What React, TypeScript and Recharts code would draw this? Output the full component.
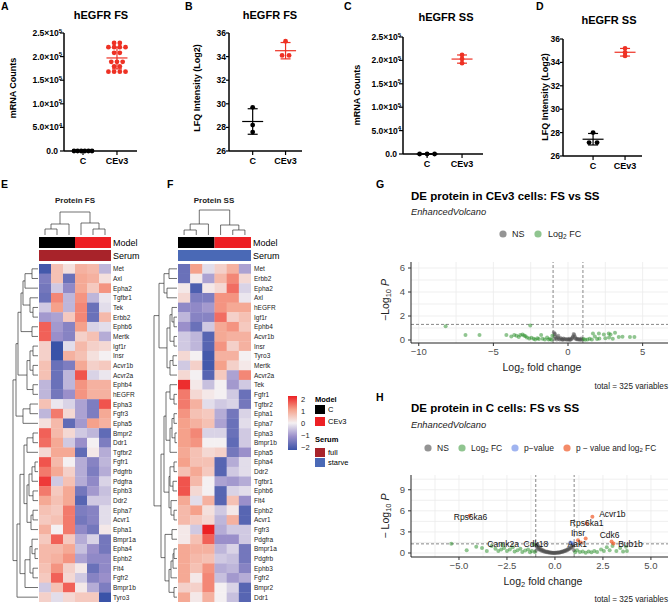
import React from 'react';
import { ScatterChart, Scatter, XAxis, YAxis, ReferenceLine, CartesianGrid } from 'recharts';

const FONT = '"Liberation Sans", Arial, Helvetica, sans-serif';
const RED = '#ee3124';

// ---------- hEGFR dot plots ----------
const groupLabels = ['C', 'CEv3'];
const fsMrnaC = [0, 0, 0, 0, 0, 0];
const fsMrnaCEv3 = [229000, 229000, 220000, 220000, 220000, 220000, 208000, 208000, 189000, 189000, 189000, 179000, 179000, 168000, 168000, 168000, 168000];
const fsLfqC = [29.7, 28.2, 27.6];
const fsLfqCEv3 = [35.3, 34.1, 34.1];
const ssMrnaC = [0, 0, 0];
const ssMrnaCEv3 = [211500, 203000, 194000];
const ssLfqC = [28.0, 27.15, 27.15];
const ssLfqCEv3 = [35.2, 34.85, 34.55];
const mrnaTicks = [0, 50000, 100000, 150000, 200000, 250000];
const lfqTicks = [26, 28, 30, 32, 34, 36];

// ---------- heatmaps (row z-scores, columns C x3 then CEv3 x3) ----------
const fsGenes = ['Met', 'Axl', 'Epha2', 'Tgfbr1', 'Tek', 'Erbb2', 'Ephb6', 'Mertk', 'Igf1r', 'Insr', 'Acvr1b', 'Acvr2a', 'Ephb4', 'hEGFR', 'Epha3', 'Fgfr3', 'Epha5', 'Bmpr2', 'Ddr1', 'Tgfbr2', 'Fgfr1', 'Pdgfrb', 'Pdgfra', 'Ephb3', 'Ddr2', 'Epha7', 'Acvr1', 'Epha1', 'Bmpr1a', 'Epha4', 'Ephb2', 'Flt4', 'Fgfr2', 'Bmpr1b', 'Tyro3'];
const fsHeat = [
  [-1.9, 0.6, 0.2, 0.8, 0.7, -0.6],
  [-1.3, 0.6, -1.5, 0.9, 0.8, 0.2],
  [-1.4, -0.4, -1.1, 0.9, 0.5, 1.1],
  [-1.5, 1.2, -0.6, 1.1, -0.6, -0.1],
  [-0.4, 1.0, -0.6, 1.2, -1.5, -0.2],
  [-0.9, -0.8, 0.5, 1.2, -1.5, 0.7],
  [1.5, -0.9, -1.2, 1.0, -0.3, -0.2],
  [1.5, -1.0, -1.2, 0.4, 0.6, -0.7],
  [0.4, -2.0, -0.2, 0.7, 0.4, 0.3],
  [0.4, -2.0, 0.8, 0.6, 0.2, 0.0],
  [0.6, -1.5, -1.3, 0.9, 0.4, 0.5],
  [0.6, -1.5, -0.6, 1.6, -0.3, -0.1],
  [-0.6, -1.5, -0.6, 1.1, 0.8, 0.8],
  [-0.6, -1.4, -1.0, 1.1, 0.8, 0.8],
  [0.6, -0.1, -0.3, -0.8, -1.3, 1.6],
  [-0.6, 1.3, 0.3, -0.8, -1.3, 0.9],
  [0.2, 0.7, -1.6, -0.9, 1.0, 0.8],
  [1.5, 0.7, 0.3, -0.4, -0.6, -1.6],
  [1.4, 0.9, -0.4, -1.0, 0.0, -1.3],
  [0.3, 0.9, 0.9, -1.6, 0.1, -0.7],
  [1.6, 0.7, 0.0, -0.7, -1.2, -0.6],
  [1.3, 0.9, 0.4, -0.7, -1.3, -0.7],
  [1.8, -0.4, 0.6, -0.7, -1.1, -0.3],
  [1.3, 0.5, 0.9, -1.4, -0.9, -0.5],
  [0.9, 0.6, 0.9, -1.7, -0.4, -0.4],
  [0.6, 0.5, 1.3, -1.3, -1.2, -0.2],
  [0.5, 0.6, 1.3, -1.4, -1.2, -0.2],
  [0.8, 0.0, 1.3, -1.1, -1.4, 0.1],
  [0.5, 1.5, 0.5, -0.7, -0.3, -1.4],
  [0.7, 0.7, 0.9, -0.5, -1.0, -1.4],
  [0.7, 0.8, 1.1, -0.8, -1.1, -1.1],
  [0.6, 1.1, 0.4, 0.1, -1.5, -1.1],
  [0.5, 1.5, 0.3, -0.4, -1.2, -1.0],
  [-0.4, 0.6, 1.5, 0.1, -0.7, -1.3],
  [0.4, -0.2, 0.3, 0.5, 0.5, -2.0],
];
const ssGenes = ['Met', 'Erbb2', 'Epha2', 'Axl', 'hEGFR', 'Igf1r', 'Ephb4', 'Acvr1b', 'Insr', 'Tyro3', 'Mertk', 'Acvr2a', 'Tek', 'Fgfr1', 'Tgfbr2', 'Epha1', 'Epha7', 'Epha3', 'Bmpr1b', 'Epha5', 'Epha4', 'Ddr2', 'Tgfbr1', 'Ephb6', 'Flt4', 'Ephb2', 'Acvr1', 'Fgfr3', 'Pdgfra', 'Bmpr1a', 'Pdgfrb', 'Ephb3', 'Fgfr2', 'Bmpr2', 'Ddr1'];
const ssHeat = [
  [-1.5, 1.0, -0.2, 0.4, 0.8, -0.8],
  [-1.5, 0.1, -0.8, 0.7, 1.2, 0.3],
  [0.1, -1.8, 0.1, 0.3, 1.4, -0.3],
  [0.3, -1.3, -1.3, 1.1, 1.1, -0.1],
  [-1.1, -1.1, -0.9, 1.1, 0.9, 0.9],
  [-0.6, -1.2, -1.2, 1.4, 0.4, 0.6],
  [-1.0, -1.5, -0.4, 0.9, 1.1, 0.5],
  [-0.4, -0.6, -1.7, 0.9, 0.8, 0.8],
  [-0.4, -0.6, -1.7, 1.1, 0.4, 0.8],
  [0.3, 0.0, -1.9, 0.8, 0.8, 0.0],
  [-0.4, 0.4, -1.9, 1.0, 0.4, 0.1],
  [0.3, 0.0, -1.7, 0.5, -0.8, 1.2],
  [1.9, 0.1, -0.5, 0.0, -0.9, -0.4],
  [1.3, 0.3, 0.1, 0.0, -0.4, -1.5],
  [1.3, 0.8, -0.2, -0.4, -0.3, -1.4],
  [1.1, 0.6, 0.5, -0.7, -1.4, -0.3],
  [1.0, 0.8, 0.6, -0.8, -1.5, -0.2],
  [1.0, 1.2, -0.3, -0.3, -1.5, -0.4],
  [1.0, 1.1, 0.0, 0.0, -1.6, -0.4],
  [0.9, 0.6, 0.3, 0.4, -1.4, -1.0],
  [1.0, 0.6, 0.6, -1.7, -0.7, -0.2],
  [0.6, 0.9, 0.5, -1.7, -0.4, -0.2],
  [1.6, 0.7, 0.0, -0.8, -0.9, -0.7],
  [1.6, 0.3, 0.0, -1.7, -0.3, -0.2],
  [0.9, -0.2, 0.8, -1.7, 0.6, -1.0],
  [0.7, 1.0, 0.2, -0.4, 0.1, -1.7],
  [0.7, 0.5, 0.3, -0.6, 0.8, -1.7],
  [0.1, -0.4, 2.0, -0.7, -0.4, -0.4],
  [0.1, 0.6, 1.5, -1.0, -1.0, -0.4],
  [0.9, 0.8, 0.8, -0.6, -0.3, -1.4],
  [0.9, 0.7, 0.6, -0.4, -0.5, -1.4],
  [0.9, 0.6, 1.1, -0.7, -0.6, -1.2],
  [0.9, 0.1, 1.2, -0.5, -0.9, -0.7],
  [0.4, 0.4, 1.2, 0.0, -0.3, -1.7],
  [0.9, 0.1, 0.8, 0.0, -0.5, -1.7],
];

// hierarchical clustering trees: leaf = row/column index, node = [left, right, height]
type Tree = number | [Tree, Tree, number];
const fsRowTree: Tree = [
  [[[[[[0, 1, 6], 2, 13], [3, [4, 5, 5], 8], 15], [6, 7, 6], 17],
    [[[8, 9, 5], [10, 11, 5], 8], [12, 13, 5], 11], 20],
   [[14, 15, 8], 16, 15], 22],
  [[[[[17, 18, 5], 19, 11],
     [[[[20, 21, 3], 22, 6], [23, 24, 5], 9], [[25, 26, 5], 27, 7], 11], 14],
    [[[28, [29, 30, 3], 6], [31, 32, 5], 8], 33, 13], 18], 34, 21],
  25,
];
const ssRowTree: Tree = [
  [[[0, 1, 8], [2, 3, 10], 13],
   [[[4, [5, 6, 3], 5], [7, 8, 3], 7], [[9, 10, 4], 11, 7], 10], 18],
  [[[[12, [13, 14, 3], 7], [[[15, 16, 3], [17, 18, 2], 5], 19, 7], 11],
    [[[20, 21, 3], [22, 23, 4], 7], [24, [25, 26, 3], 6], 8], 13],
   [[27, 28, 5], [[[[29, 30, 3], 31, 4], 32, 6], [33, 34, 3], 8], 12], 16],
  23,
];
const fsColTree: Tree = [[[0, 1, 6], 2, 11], [3, [4, 5, 6], 12], 23];
const ssColTree: Tree = [[[0, 1, 5], 2, 11], [3, [4, 5, 5], 10], 25];

// ---------- volcano plots: [log2FC, -log10 P] ----------
const cev3Ns = [[-0.95, 0.62], [-0.9, 0.45], [-0.85, 0.3], [-0.8, 0.15], [-0.75, 0.05], [-0.7, 0.22], [-0.62, 0.1], [-0.55, 0.04], [-0.5, 0.16], [-0.44, 0.08], [-0.38, 0.02], [-0.3, 0.12], [-0.25, 0.05], [-0.18, 0.09], [-0.1, 0.03], [-0.05, 0.07], [0.02, 0.04], [0.08, 0.1], [0.15, 0.02], [0.2, 0.06], [0.28, 0.12], [0.33, 0.3], [0.38, 0.5], [0.42, 0.42], [0.46, 0.28], [0.5, 0.15], [0.55, 0.06], [0.6, 0.1], [0.66, 0.04], [0.72, 0.08], [0.78, 0.02], [0.85, 0.05], [0.9, 0.12], [0.95, 0.03], [-0.88, 0.52], [-0.65, 0.35], [0.3, 0.2], [-0.92, 0.08], [0.1, 0.02], [-0.35, 0.04]];
const cev3Fc = [[-8.2, 1.15], [-6.87, 0.42], [-5.93, 0.42], [-4.13, 0.42], [-3.8, 0.3], [-3.6, 0.42], [-3.45, 0.35], [-3.3, 0.25], [-3.2, 0.42], [-3.05, 0.45], [-2.95, 0.38], [-2.85, 0.32], [-2.75, 0.2], [-2.6, 0.12], [-2.53, 1.2], [-2.45, 0.18], [-2.3, 0.1], [-2.2, 0.05], [-2.05, 0.15], [-1.95, 0.08], [-1.8, 0.42], [-1.7, 0.1], [-1.55, 0.05], [-1.4, 0.2], [-1.3, 0.05], [-1.2, 0.08], [-1.1, 0.03], [-1.05, 0.35], [1.05, 0.08], [1.15, 0.02], [1.3, 0.05], [1.45, 0.1], [1.6, 0.04], [1.67, 0.55], [1.8, 0.3], [1.95, 0.08], [2.07, 0.55], [2.1, 0.12], [2.4, 0.45], [2.5, 0.15], [2.73, 0.55], [2.75, 0.2], [2.85, 0.45], [3.0, 0.1], [3.15, 0.6], [3.4, 0.25], [3.65, 0.28], [4.15, 0.25], [4.45, 0.25]];

const cNs = [[-0.98, 1.1], [-0.95, 0.85], [-0.92, 1.25], [-0.9, 0.7], [-0.87, 0.95], [-0.85, 0.55], [-0.82, 0.8], [-0.8, 0.45], [-0.76, 0.6], [-0.72, 0.35], [-0.7, 0.5], [-0.66, 0.28], [-0.62, 0.4], [-0.58, 0.2], [-0.55, 0.3], [-0.5, 0.15], [-0.46, 0.22], [-0.42, 0.1], [-0.38, 0.16], [-0.34, 0.06], [-0.3, 0.12], [-0.26, 0.04], [-0.22, 0.08], [-0.18, 0.02], [-0.14, 0.05], [-0.1, 0.01], [-0.06, 0.03], [-0.02, 0.01], [0.02, 0.02], [0.06, 0.04], [0.1, 0.02], [0.14, 0.06], [0.18, 0.08], [0.22, 0.05], [0.26, 0.12], [0.3, 0.1], [0.34, 0.18], [0.38, 0.14], [0.42, 0.25], [0.46, 0.2], [0.5, 0.32], [0.54, 0.28], [0.58, 0.42], [0.62, 0.36], [0.66, 0.55], [0.7, 0.48], [0.74, 0.68], [0.78, 0.6], [0.82, 0.85], [0.86, 0.75], [0.9, 1.05], [0.94, 0.9], [0.97, 1.2], [-1.0, 0.3], [0.99, 0.4]];
const cFc = [[-5.4, 1.3], [-4.6, 0.4], [-4.1, 0.9], [-3.8, 0.7], [-3.55, 0.3], [-3.3, 1.0], [-3.1, 0.6], [-2.95, 0.3], [-2.8, 0.5], [-2.75, 1.15], [-2.65, 0.7], [-2.5, 0.3], [-2.35, 0.5], [-2.2, 0.8], [-2.1, 0.2], [-1.95, 0.4], [-1.8, 0.6], [-1.7, 0.15], [-1.55, 0.35], [-1.4, 0.5], [-1.3, 0.1], [-1.2, 0.3], [-1.1, 1.2], [-1.05, 0.15], [1.05, 0.1], [1.15, 0.4], [1.3, 0.15], [1.45, 0.2], [1.6, 0.05], [1.75, 0.2], [1.9, 0.1], [2.05, 0.3], [2.2, 0.15], [2.4, 0.5], [2.55, 0.3], [2.7, 0.8], [2.85, 0.4], [3.0, 1.0], [3.2, 0.3], [3.4, 0.7], [3.55, 0.2], [3.7, 0.9], [3.75, 0.3]];
const cP = [[0.8, 1.5], [0.92, 1.38]];
const cPFc = [[-4.45, 5.3], [1.95, 5.15], [1.65, 4.2], [1.2, 1.8], [1.6, 2.05], [1.35, 1.5], [2.95, 1.65], [3.05, 1.35]];
const cLabeled = [
  { gene: 'Rps6ka6', x: -4.45, y: 5.3 },
  { gene: 'Acvr1b', x: 1.95, y: 5.15 },
  { gene: 'Rps6ka1', x: 1.65, y: 4.2 },
  { gene: 'Insr', x: 1.2, y: 1.8 },
  { gene: 'Cdk6', x: 2.95, y: 1.65 },
  { gene: 'Bub1b', x: 3.05, y: 1.35 },
  { gene: 'Camk2a', x: -2.75, y: 1.15 },
  { gene: 'Cdk18', x: -1.1, y: 1.2 },
  { gene: 'Aak1', x: 0.8, y: 1.5 },
];
// pixel offsets of the gene labels from their points
const labelNudge: Record<string, [number, number]> = {
  Rps6ka6: [1, 1], Acvr1b: [20, -3], Rps6ka1: [0, 0], Insr: [0, -7], Cdk6: [-2, -6],
  Bub1b: [17, 0.5], Camk2a: [1, -1], Cdk18: [2, -1], Aak1: [7, 1.5],
};

const NS_COL = '#4d4d4d';
const FC_COL = '#228b22';
const P_COL = '#4169e1';
const PFC_COL = '#ef5a28';

// ---------- helpers ----------
const mean = (a: number[]) => a.reduce((s, v) => s + v, 0) / a.length;
const sd = (a: number[]) => {
  const m = mean(a);
  return Math.sqrt(a.reduce((s, v) => s + (v - m) ** 2, 0) / (a.length - 1));
};

// spread tied values side by side around the group centre
function swarm(values: number[], center: number, step: number) {
  const counts = new Map<number, number>();
  values.forEach((v) => counts.set(v, (counts.get(v) || 0) + 1));
  const seen = new Map<number, number>();
  return values.map((v) => {
    const n = counts.get(v)!;
    const i = seen.get(v) || 0;
    seen.set(v, i + 1);
    return { x: center + (i - (n - 1) / 2) * step, y: v };
  });
}

const heatStops: [number, number[]][] = [
  [-2, [58, 83, 168]],
  [-1, [154, 143, 202]],
  [0, [244, 240, 242]],
  [1, [245, 161, 139]],
  [2, [236, 32, 36]],
];
function heatColor(z: number) {
  const v = Math.max(-2, Math.min(2, z));
  for (let i = 0; i < heatStops.length - 1; i++) {
    const [a, ca] = heatStops[i];
    const [b, cb] = heatStops[i + 1];
    if (v <= b) {
      const t = (v - a) / (b - a);
      return `rgb(${ca.map((c, k) => Math.round(c + (cb[k] - c) * t)).join(',')})`;
    }
  }
  return 'rgb(236,32,36)';
}

function treeSegments(t: Tree, segs: number[][]): [number, number] {
  if (typeof t === 'number') return [t + 0.5, 0];
  const [a, b, h] = t;
  const [pa, ha] = treeSegments(a, segs);
  const [pb, hb] = treeSegments(b, segs);
  segs.push([pa, ha, pa, h], [pb, hb, pb, h], [pa, h, pb, h]);
  return [(pa + pb) / 2, h];
}

function RowDendro({ tree, edge, top, rowH }: { tree: Tree; edge: number; top: number; rowH: number }) {
  const segs: number[][] = [];
  treeSegments(tree, segs);
  return (
    <g stroke="#333" strokeWidth={0.7} fill="none">
      {segs.map((s, i) => (
        <line key={i} x1={edge - s[1]} y1={top + s[0] * rowH} x2={edge - s[3]} y2={top + s[2] * rowH} />
      ))}
    </g>
  );
}

function ColDendro({ tree, left, base, colW }: { tree: Tree; left: number; base: number; colW: number }) {
  const segs: number[][] = [];
  treeSegments(tree, segs);
  return (
    <g stroke="#333" strokeWidth={0.7} fill="none">
      {segs.map((s, i) => (
        <line key={i} x1={left + s[0] * colW} y1={base - s[1]} x2={left + s[2] * colW} y2={base - s[3]} />
      ))}
    </g>
  );
}

const SciTick = (props: any) => {
  const { x, y, payload } = props;
  const v = payload.value as number;
  if (v === 0) {
    return (
      <text x={x} y={y} dy={3} textAnchor="end" fontSize={8.5} fontWeight="bold" fontFamily={FONT} fill="#000">0.0</text>
    );
  }
  const exp = Math.floor(Math.log10(v) + 1e-9);
  const mant = (v / 10 ** exp).toFixed(1);
  return (
    <text x={x + 4} y={y} dy={3} textAnchor="end" fontSize={8.5} fontWeight="bold" fontFamily={FONT} fill="#000">
      <tspan>{mant}×10</tspan>
      <tspan dy={-3.5} fontSize={6}>{exp}</tspan>
    </text>
  );
};

type Box = { l: number; t: number; r: number; b: number };
type Group = { values: number[]; color: string; step: number };

function DotPanel({ plot, xDomain, yDomain, yTicks, sci, groups }: {
  plot: Box; xDomain: [number, number]; yDomain: [number, number]; yTicks: number[]; sci?: boolean; groups: Group[];
}) {
  const padL = 62, padT = 10, padR = 8, axisH = 24;
  const w = plot.r - plot.l;
  const h = plot.b - plot.t;
  const unit = (xDomain[1] - xDomain[0]) / w;
  const marks: React.ReactNode[] = [];
  groups.forEach((g, i) => {
    const cx = i + 1;
    const m = mean(g.values);
    const s = sd(g.values);
    const line = { stroke: g.color, strokeWidth: 1.2, ifOverflow: 'visible' as const };
    marks.push(
      <ReferenceLine key={`m${i}`} segment={[{ x: cx - 10.5 * unit, y: m }, { x: cx + 10.5 * unit, y: m }]} {...line} />,
      <ReferenceLine key={`v${i}`} segment={[{ x: cx, y: m - s }, { x: cx, y: m + s }]} {...line} />,
      <ReferenceLine key={`t${i}`} segment={[{ x: cx - 5 * unit, y: m + s }, { x: cx + 5 * unit, y: m + s }]} {...line} />,
      <ReferenceLine key={`b${i}`} segment={[{ x: cx - 5 * unit, y: m - s }, { x: cx + 5 * unit, y: m - s }]} {...line} />,
      <Scatter
        key={`s${i}`}
        data={swarm(g.values, cx, g.step * unit)}
        isAnimationActive={false}
        shape={(p: any) => <circle cx={p.cx} cy={p.cy} r={2.4} fill={g.color} />}
      />,
    );
  });
  return (
    <div style={{ position: 'absolute', left: plot.l - padL, top: plot.t - padT }}>
      <ScatterChart width={w + padL + padR} height={h + padT + axisH} margin={{ top: padT, right: padR, bottom: 0, left: 0 }}>
        <XAxis
          type="number" dataKey="x" domain={xDomain} ticks={[1, 2]} interval={0} height={axisH}
          tickFormatter={(v: number) => groupLabels[v - 1]}
          tick={{ fontSize: 9, fontWeight: 'bold', fill: '#000', fontFamily: FONT }}
          tickSize={4} tickMargin={3}
          axisLine={{ stroke: '#000', strokeWidth: 1.5 }} tickLine={{ stroke: '#000', strokeWidth: 1.2 }}
        />
        <YAxis
          type="number" dataKey="y" domain={yDomain} ticks={yTicks} interval={0} width={padL}
          tick={sci ? SciTick : { fontSize: 8.5, fontWeight: 'bold', fill: '#000', fontFamily: FONT }}
          tickSize={sci ? 4 : 3} tickMargin={sci ? 2 : 0}
          axisLine={{ stroke: '#000', strokeWidth: 1.5 }} tickLine={{ stroke: '#000', strokeWidth: 1.2 }}
        />
        {marks}
      </ScatterChart>
    </div>
  );
}

function Heatmap({ left, top, width, height, values }: { left: number; top: number; width: number; height: number; values: number[][] }) {
  const data = values.flatMap((row, r) => row.map((z, c) => ({ x: c + 0.5, y: r + 0.5, z })));
  const cw = width / 6;
  const ch = height / values.length;
  return (
    <div style={{ position: 'absolute', left, top }}>
      <ScatterChart width={width} height={height} margin={{ top: 0, right: 0, bottom: 0, left: 0 }}>
        <XAxis type="number" dataKey="x" domain={[0, 6]} hide />
        <YAxis type="number" dataKey="y" domain={[0, values.length]} reversed hide />
        <Scatter
          data={data}
          isAnimationActive={false}
          shape={(p: any) => (
            <rect x={p.cx - cw / 2} y={p.cy - ch / 2} width={cw + 0.3} height={ch + 0.3} fill={heatColor(p.payload.z)} />
          )}
        />
      </ScatterChart>
    </div>
  );
}

type Series = { name: string; points: number[][]; color: string; opacity: number };

function Volcano({ plotTop, plotH, xDomain, yDomain, xTicks, yTicks, xGrid, yGrid, fmt, series, labeled }: {
  plotTop: number; plotH: number; xDomain: [number, number]; yDomain: [number, number];
  xTicks: number[]; yTicks: number[]; xGrid: number[]; yGrid: number[]; fmt: (v: number) => string;
  series: Series[]; labeled?: { gene: string; x: number; y: number }[];
}) {
  const padL = 51, padT = 10, axisH = 22;
  const w = 668 - 411;
  const dash = { stroke: '#555', strokeDasharray: '3 2', strokeWidth: 0.7 };
  const tickStyle = { fontSize: 9.5, fill: '#4d4d4d', fontFamily: FONT };
  return (
    <div style={{ position: 'absolute', left: 411 - padL, top: plotTop - padT }}>
      <ScatterChart width={padL + w + 1} height={padT + plotH + axisH} margin={{ top: padT, right: 1, bottom: 0, left: 0 }}>
        <CartesianGrid horizontalValues={yGrid} verticalValues={xGrid} stroke="#ebebeb" strokeWidth={0.8} />
        <XAxis
          type="number" dataKey="x" domain={xDomain} ticks={xTicks} interval={0} allowDataOverflow height={axisH}
          tickFormatter={fmt} tick={tickStyle} tickSize={3} tickMargin={2}
          axisLine={{ stroke: '#222' }} tickLine={{ stroke: '#333' }}
        />
        <YAxis
          type="number" dataKey="y" domain={yDomain} ticks={yTicks} interval={0} allowDataOverflow width={padL}
          tick={tickStyle} tickSize={3} tickMargin={3}
          axisLine={{ stroke: '#222' }} tickLine={{ stroke: '#333' }}
        />
        <ReferenceLine x={-1} {...dash} />
        <ReferenceLine x={1} {...dash} />
        <ReferenceLine y={1.3} {...dash} />
        {series.map((s) => (
          <Scatter
            key={s.name}
            name={s.name}
            data={s.points.map(([x, y]) => ({ x, y }))}
            isAnimationActive={false}
            shape={(p: any) => <circle cx={p.cx} cy={p.cy} r={2} fill={s.color} fillOpacity={s.opacity} />}
          />
        ))}
        {labeled && (
          <Scatter
            data={labeled}
            isAnimationActive={false}
            shape={(p: any) => {
              const [dx, dy] = labelNudge[p.payload.gene] || [0, 0];
              return (
                <text x={p.cx + dx} y={p.cy + dy} textAnchor="middle" dominantBaseline="central" fontSize={8.5} fontFamily={FONT} fill="#111">
                  {p.payload.gene}
                </text>
              );
            }}
          />
        )}
      </ScatterChart>
    </div>
  );
}

const fmtInt = (v: number) => (v < 0 ? `\u2212${Math.abs(v)}` : `${v}`);
const fmtOne = (v: number) => (v < 0 ? `\u2212${Math.abs(v).toFixed(1)}` : v.toFixed(1));

function LegendDot({ x, y, color, opacity }: { x: number; y: number; color: string; opacity: number }) {
  return <circle cx={x} cy={y} r={3.6} fill={color} fillOpacity={opacity} />;
}

export default function App() {
  const rowH = 338 / 35;
  return (
    <div style={{ position: 'absolute', left: 0, top: 0, width: 669, height: 603, background: '#fff', overflow: 'hidden' }}>
      <DotPanel plot={{ l: 64, t: 33, r: 137, b: 151 }} xDomain={[0.44, 2.59]} yDomain={[0, 250000]} yTicks={mrnaTicks} sci
        groups={[{ values: fsMrnaC, color: '#000', step: 3.6 }, { values: fsMrnaCEv3, color: RED, step: 5.7 }]} />
      <DotPanel plot={{ l: 229, t: 33, r: 302, b: 151 }} xDomain={[0.28, 2.5]} yDomain={[26, 36]} yTicks={lfqTicks}
        groups={[{ values: fsLfqC, color: '#000', step: 7 }, { values: fsLfqCEv3, color: RED, step: 7 }]} />
      <DotPanel plot={{ l: 403, t: 37, r: 483, b: 154 }} xDomain={[0.31, 2.6]} yDomain={[0, 250000]} yTicks={mrnaTicks} sci
        groups={[{ values: ssMrnaC, color: '#000', step: 7.5 }, { values: ssMrnaCEv3, color: RED, step: 7 }]} />
      <DotPanel plot={{ l: 563, t: 39, r: 642, b: 156 }} xDomain={[0.06, 2.53]} yDomain={[26, 36]} yTicks={lfqTicks}
        groups={[{ values: ssLfqC, color: '#000', step: 8 }, { values: ssLfqCEv3, color: RED, step: 7 }]} />

      <Heatmap left={39} top={264} width={72} height={338} values={fsHeat} />
      <Heatmap left={178} top={264} width={73} height={338} values={ssHeat} />

      <Volcano plotTop={262} plotH={81} xDomain={[-10.52, 6.7]} yDomain={[-0.25, 6.5]}
        xTicks={[-10, -5, 0, 5]} yTicks={[0, 2, 4, 6]} xGrid={[-10, -7.5, -5, -2.5, 0, 2.5, 5]} yGrid={[0, 1, 2, 3, 4, 5, 6]}
        fmt={fmtInt}
        series={[
          { name: 'NS', points: cev3Ns, color: NS_COL, opacity: 0.5 },
          { name: 'Log2 FC', points: cev3Fc, color: FC_COL, opacity: 0.5 },
        ]} />
      <Volcano plotTop={475} plotH={82} xDomain={[-7.5, 5.89]} yDomain={[-0.57, 11.1]}
        xTicks={[-5, -2.5, 0, 2.5, 5]} yTicks={[0, 3, 6, 9]} xGrid={[-6.25, -5, -3.75, -2.5, -1.25, 0, 1.25, 2.5, 3.75, 5]} yGrid={[0, 1.5, 3, 4.5, 6, 7.5, 9, 10.5]}
        fmt={fmtOne}
        series={[
          { name: 'NS', points: cNs, color: NS_COL, opacity: 0.5 },
          { name: 'Log2 FC', points: cFc, color: FC_COL, opacity: 0.5 },
          { name: 'p-value', points: cP, color: P_COL, opacity: 0.5 },
          { name: 'p-value and log2 FC', points: cPFc, color: PFC_COL, opacity: 0.7 },
        ]}
        labeled={cLabeled} />

      <svg width={669} height={603} style={{ position: 'absolute', left: 0, top: 0, pointerEvents: 'none' }} fontFamily={FONT}>
        {/* panel letters */}
        <g fontSize={10.5} fontWeight="bold" fill="#000">
          <text x={1} y={10}>A</text>
          <text x={185} y={10}>B</text>
          <text x={344} y={10}>C</text>
          <text x={536} y={10}>D</text>
          <text x={1} y={188}>E</text>
          <text x={167} y={188}>F</text>
          <text x={376} y={188}>G</text>
          <text x={376} y={401}>H</text>
        </g>

        {/* dot plot titles */}
        <g fontSize={11} fontWeight="bold" textAnchor="middle" dominantBaseline="central">
          <text x={101} y={15}>hEGFR FS</text>
          <text x={270} y={15}>hEGFR FS</text>
          <text x={446} y={17}>hEGFR SS</text>
          <text x={609} y={20}>hEGFR SS</text>
        </g>
        <g fontSize={9} fontWeight="bold" textAnchor="middle" dominantBaseline="central">
          <text x={13} y={88} transform="rotate(-90 13 88)">mRNA Counts</text>
          <text x={197} y={88} transform="rotate(-90 197 88)">LFQ Intensity (Log2)</text>
          <text x={357} y={95} transform="rotate(-90 357 95)">mRNA Counts</text>
          <text x={545} y={97} transform="rotate(-90 545 97)">LFQ Intensity (Log2)</text>
        </g>

        {/* heatmap E */}
        <text x={75} y={200} fontSize={8} fontWeight="bold" fill="#222" textAnchor="middle" dominantBaseline="central">Protein FS</text>
        <ColDendro tree={fsColTree} left={39} base={235} colW={12} />
        <rect x={39} y={237} width={36} height={11} fill="#000" />
        <rect x={75} y={237} width={36} height={11} fill="#ed2024" />
        <rect x={39} y={250} width={72} height={11} fill="#a8232a" />
        <text x={113} y={243} fontSize={9} dominantBaseline="central">Model</text>
        <text x={113} y={256} fontSize={9} dominantBaseline="central">Serum</text>
        <RowDendro tree={fsRowTree} edge={38} top={264} rowH={rowH} />
        <g fontSize={6.5} fill="#222" dominantBaseline="central">
          {fsGenes.map((g, i) => <text key={g} x={113} y={264 + (i + 0.5) * rowH}>{g}</text>)}
        </g>

        {/* heatmap F */}
        <text x={214} y={200} fontSize={8} fontWeight="bold" fill="#222" textAnchor="middle" dominantBaseline="central">Protein SS</text>
        <ColDendro tree={ssColTree} left={178} base={235} colW={73 / 6} />
        <rect x={178} y={237} width={36.5} height={11} fill="#000" />
        <rect x={214.5} y={237} width={36.5} height={11} fill="#ed2024" />
        <rect x={178} y={250} width={73} height={11} fill="#4a69b6" />
        <text x={253} y={243} fontSize={9} dominantBaseline="central">Model</text>
        <text x={253} y={256} fontSize={9} dominantBaseline="central">Serum</text>
        <RowDendro tree={ssRowTree} edge={177} top={264} rowH={rowH} />
        <g fontSize={6.5} fill="#222" dominantBaseline="central">
          {ssGenes.map((g, i) => <text key={g} x={254} y={264 + (i + 0.5) * rowH}>{g}</text>)}
        </g>

        {/* heatmap legends */}
        <defs>
          <linearGradient id="zscale" x1="0" y1="0" x2="0" y2="1">
            {[2, 1, 0, -1, -2].map((v, i) => <stop key={v} offset={`${i * 25}%`} stopColor={heatColor(v)} />)}
          </linearGradient>
        </defs>
        <rect x={288} y={396} width={9} height={54} fill="url(#zscale)" />
        <g fontSize={7.5} fill="#222" dominantBaseline="central">
          {[2, 1, 0, -1, -2].map((v, i) => (
            <text key={v} x={301} y={399 + i * 12}>{v < 0 ? `\u2212${-v}` : v}</text>
          ))}
        </g>
        <g fontSize={7.5}>
          <text x={315} y={402} fontWeight="bold">Model</text>
          <rect x={315} y={405} width={10} height={9} fill="#000" />
          <text x={328} y={409.5} dominantBaseline="central">C</text>
          <rect x={315} y={417} width={10} height={9} fill="#ed2024" />
          <text x={328} y={421.5} dominantBaseline="central">CEv3</text>
          <text x={315} y={442} fontWeight="bold">Serum</text>
          <rect x={315} y={448} width={10} height={9} fill="#a8232a" />
          <text x={328} y={452.5} dominantBaseline="central">full</text>
          <rect x={315} y={458} width={10} height={9} fill="#4a69b6" />
          <text x={328} y={462.5} dominantBaseline="central">starve</text>
        </g>

        {/* volcano G */}
        <text x={411} y={196} fontSize={11.5} fontWeight="bold" dominantBaseline="central">DE protein in CEv3 cells: FS vs SS</text>
        <text x={411} y={212} fontSize={9.3} fontStyle="italic" fill="#222" dominantBaseline="central">EnhancedVolcano</text>
        <LegendDot x={503} y={234} color={NS_COL} opacity={0.6} />
        <text x={512} y={234} fontSize={9} fill="#222" dominantBaseline="central">NS</text>
        <LegendDot x={538} y={234} color={FC_COL} opacity={0.5} />
        <text x={548} y={234} fontSize={9} fill="#222" dominantBaseline="central">Log<tspan fontSize={6.5} dy={2}>2</tspan><tspan dy={-2}> FC</tspan></text>
        <text x={385} y={300} fontSize={10.5} fill="#222" textAnchor="middle" dominantBaseline="central" transform="rotate(-90 385 300)">
          −Log<tspan fontSize={7.5} dy={2.5}>10</tspan><tspan dy={-2.5}> </tspan><tspan fontStyle="italic">P</tspan>
        </text>
        <text x={542} y={367} fontSize={10.5} fill="#222" textAnchor="middle" dominantBaseline="central">
          Log<tspan fontSize={7.5} dy={2.5}>2</tspan><tspan dy={-2.5}> fold change</tspan>
        </text>
        <text x={668} y={386} fontSize={8.2} fill="#222" textAnchor="end" dominantBaseline="central">total = 325 variables</text>

        {/* volcano H */}
        <text x={411} y={408} fontSize={11.5} fontWeight="bold" dominantBaseline="central">DE protein in C cells: FS vs SS</text>
        <text x={411} y={425} fontSize={9.3} fontStyle="italic" fill="#222" dominantBaseline="central">EnhancedVolcano</text>
        <LegendDot x={428} y={448} color={NS_COL} opacity={0.6} />
        <text x={437} y={448} fontSize={8.5} fill="#222" dominantBaseline="central">NS</text>
        <LegendDot x={462} y={448} color={FC_COL} opacity={0.5} />
        <text x={471} y={448} fontSize={8.5} fill="#222" dominantBaseline="central">Log<tspan fontSize={6} dy={2}>2</tspan><tspan dy={-2}> FC</tspan></text>
        <LegendDot x={515} y={448} color={P_COL} opacity={0.5} />
        <text x={524} y={448} fontSize={8.5} fill="#222" dominantBaseline="central">p−value</text>
        <LegendDot x={567} y={448} color={PFC_COL} opacity={0.7} />
        <text x={576} y={448} fontSize={8.3} fill="#222" dominantBaseline="central">p − value and log<tspan fontSize={6} dy={2}>2</tspan><tspan dy={-2}> FC</tspan></text>
        <text x={385} y={516} fontSize={10.5} fill="#222" textAnchor="middle" dominantBaseline="central" transform="rotate(-90 385 516)">
          − Log<tspan fontSize={7.5} dy={2.5}>10</tspan><tspan dy={-2.5}> </tspan><tspan fontStyle="italic">P</tspan>
        </text>
        <text x={543} y={581} fontSize={10.5} fill="#222" textAnchor="middle" dominantBaseline="central">
          Log<tspan fontSize={7.5} dy={2.5}>2</tspan><tspan dy={-2.5}> fold change</tspan>
        </text>
        <text x={668} y={599} fontSize={8.2} fill="#222" textAnchor="end" dominantBaseline="central">total = 325 variables</text>
      </svg>
    </div>
  );
}
